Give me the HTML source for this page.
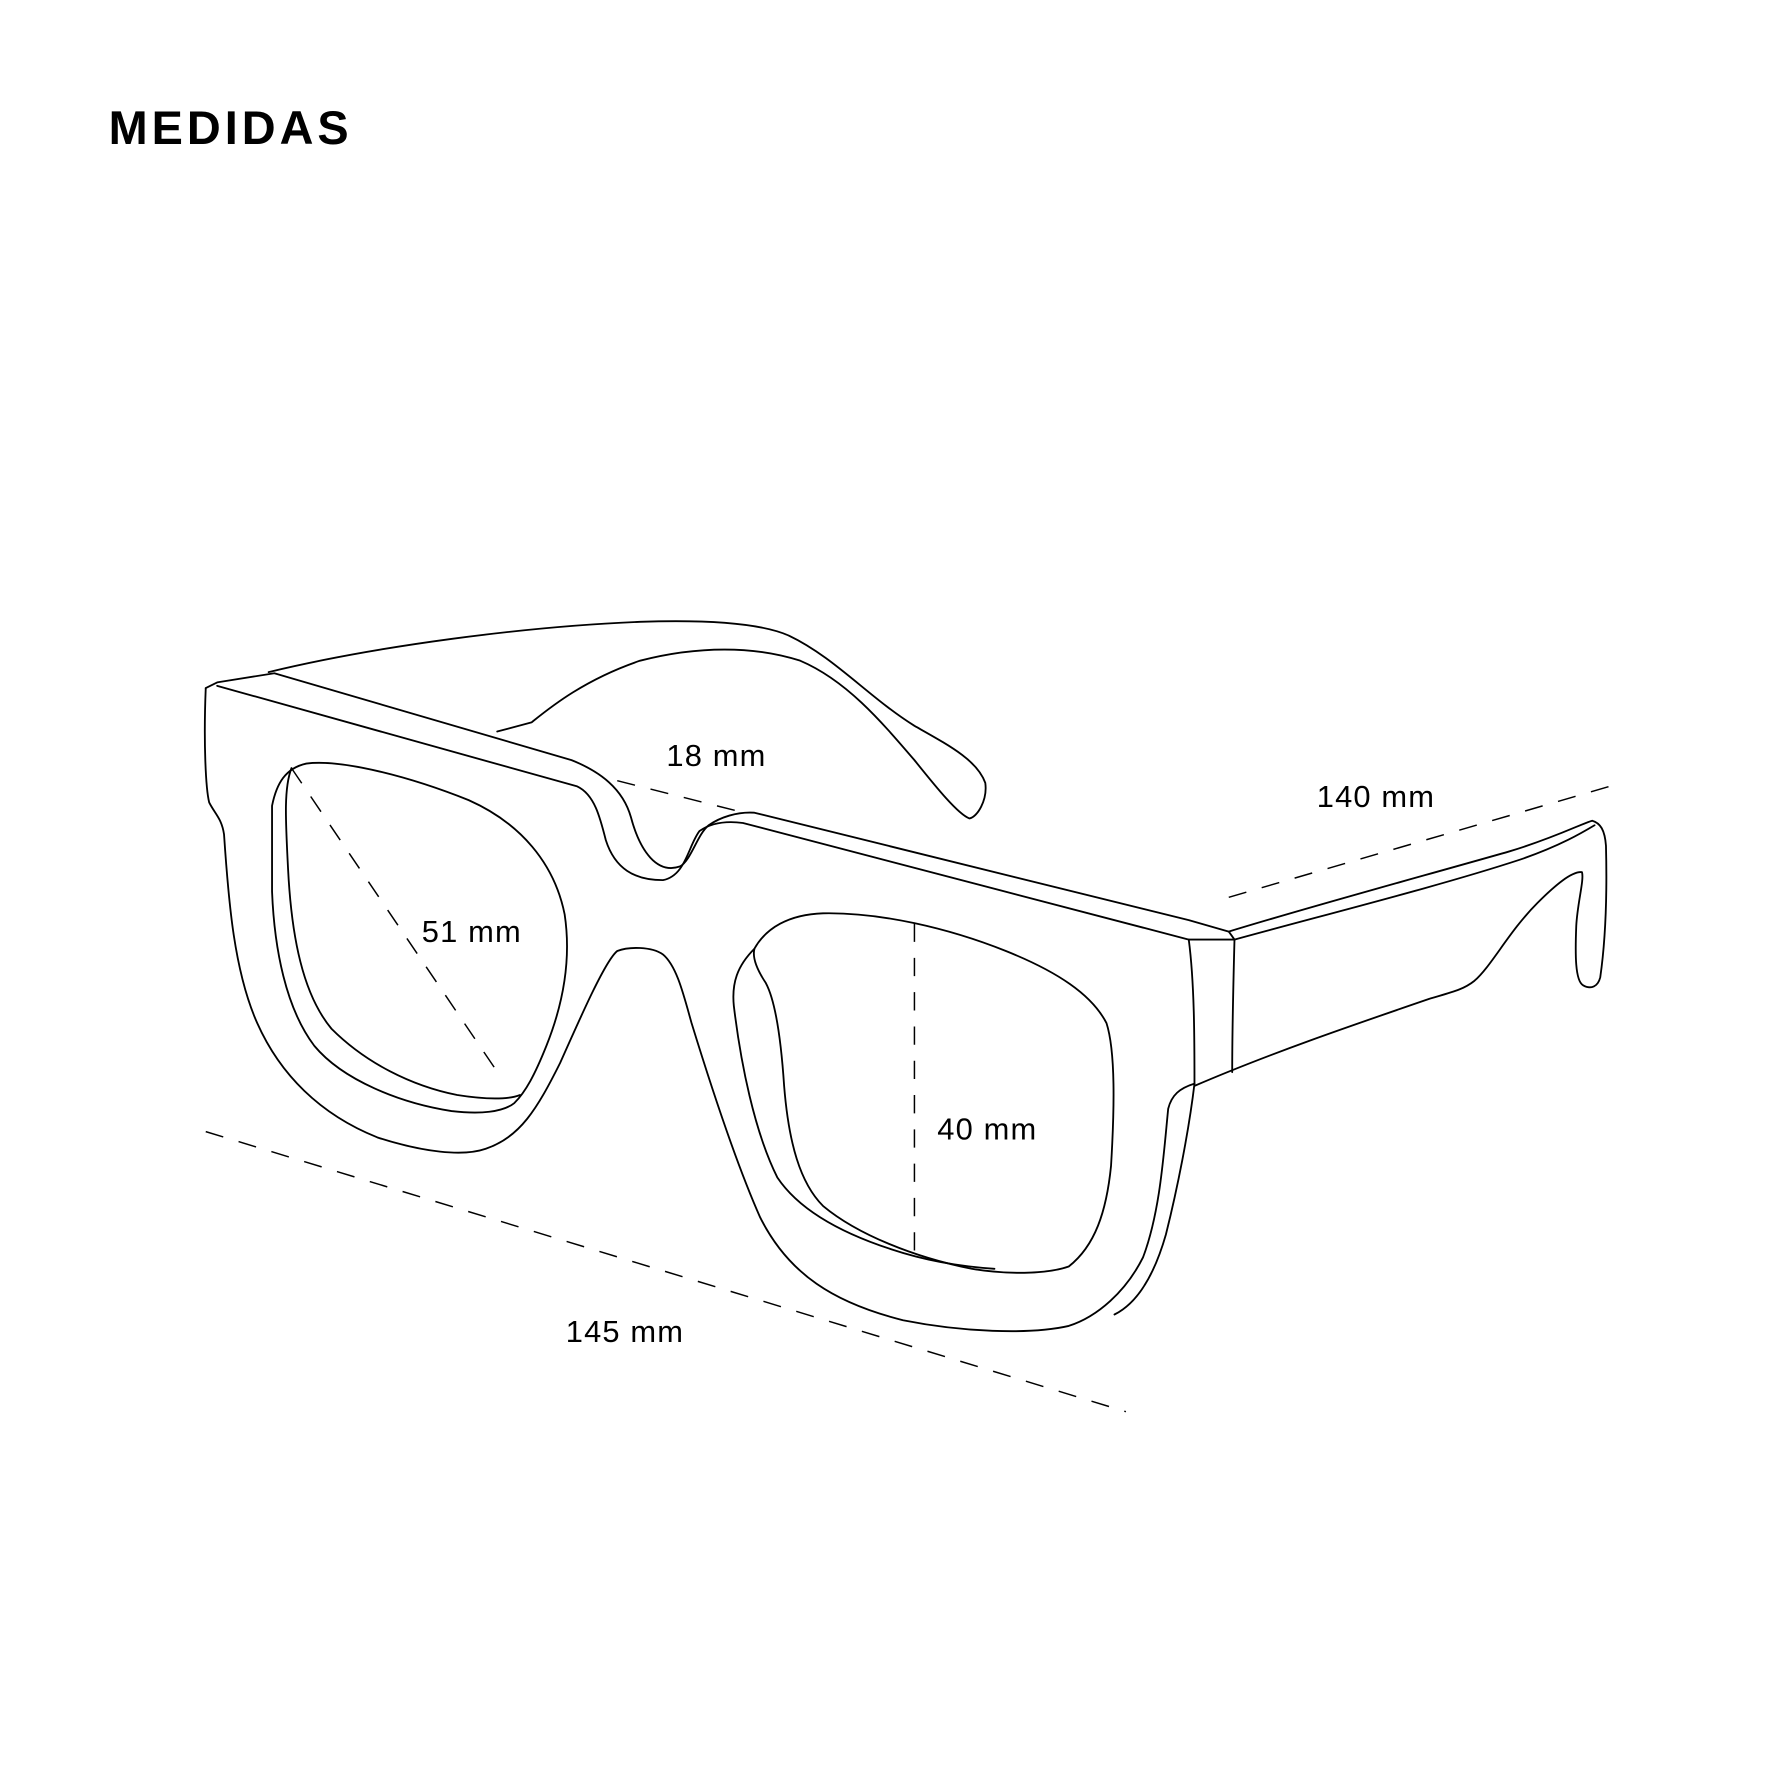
<!DOCTYPE html>
<html><head><meta charset="utf-8"><style>html,body{margin:0;padding:0;background:#fff}svg{display:block}</style></head>
<body>
<svg width="1774" height="1774" viewBox="0 0 1552 1552" xmlns="http://www.w3.org/2000/svg">
<g fill="none" stroke="#000" stroke-width="1.6" stroke-linejoin="round" stroke-linecap="round">
<path d="M235,588 C330,565 460,548 560,544 C620,542 665,545 690,556 C730,575 760,610 800,635 C830,652 855,665 862,685 C864,700 855,715 848,716 C838,712 820,690 800,665 C770,630 740,595 700,578 C660,565 610,565 560,578 C510,595 480,620 465,632 L435,640"/>
<path d="M180,602 L190,597 L240,589 L500,665 C525,675 545,690 552,715 C560,745 575,765 595,758 C605,752 610,730 620,722 C630,715 645,710 660,711 L1040,805 L1075,815 L1080,822"/>
<path d="M190,600 L505,688 C520,695 525,715 530,735 C538,760 555,770 580,770 C600,766 602,740 612,727 C622,720 635,718 650,720 L1040,822 L1080,822"/>
<path d="M180,602 C178,650 180,690 183,702 C188,712 194,716 196,730 C200,790 205,850 225,895 C245,940 280,975 330,995 C370,1008 405,1012 425,1005 C455,995 470,970 490,930 C510,885 530,840 540,832 C550,828 570,828 580,835 C592,845 598,870 605,895 C625,960 645,1020 665,1065 C690,1115 730,1140 790,1155 C840,1165 900,1168 935,1160 C960,1152 985,1130 1000,1100 C1015,1060 1018,1010 1022,970 C1025,958 1032,952 1045,948"/>
<path d="M1040,822 C1045,860 1045,910 1045,948 C1040,990 1030,1040 1020,1080 C1010,1115 995,1140 975,1150"/>
<path d="M1080,822 C1079,860 1078,900 1078,938"/>
<path d="M1075,815 C1150,792 1250,765 1320,745 C1360,733 1385,720 1393,718 C1400,720 1404,726 1405,740 C1406,780 1405,820 1400,855 C1398,863 1392,866 1385,862 C1378,858 1378,835 1379,810 C1380,790 1386,770 1384,763 C1375,762 1360,775 1345,790 C1320,815 1305,845 1290,858 C1280,866 1270,868 1250,874 C1180,898 1110,922 1045,950"/>
<path d="M1080,822 C1160,800 1260,775 1330,752 C1365,740 1385,728 1395,722"/>
<path d="M238,705 C242,685 250,672 268,668 C300,664 360,680 410,700 C455,720 485,755 494,800 C500,840 492,880 478,915 C468,940 460,955 450,965 C440,973 420,975 395,972 C350,965 300,945 275,915 C250,882 240,830 238,780 Z"/>
<path d="M255,672 C248,690 250,720 252,760 C255,820 265,870 290,900 C320,930 360,950 400,958 C425,962 445,962 455,958"/>
<path d="M660,830 C670,812 690,800 720,799 C770,798 830,812 880,832 C925,850 955,870 968,895 C976,920 975,970 972,1020 C968,1060 958,1090 935,1108 C915,1115 880,1115 850,1110 C800,1100 750,1080 720,1055 C700,1035 690,1000 686,950 C683,905 678,875 670,860 C662,848 658,838 660,830 Z"/>
<path d="M660,830 C645,845 640,860 642,880 C648,930 660,990 680,1030 C700,1060 740,1080 780,1093 C810,1103 840,1108 870,1110"/>
</g>
<g fill="none" stroke="#000" stroke-width="1.3" stroke-dasharray="16,14">
<path d="M180,990 L985,1235"/>
<path d="M1075,785 L1415,686"/>
<path d="M540,683 L655,712"/>
<path d="M255,672 L440,945"/>
<path d="M800,808 L800,1105"/>
</g>
<g font-family="Liberation Sans, sans-serif" font-size="27" fill="#000" letter-spacing="1">
<text x="583" y="670">18 mm</text>
<text x="1152" y="706">140 mm</text>
<text x="369" y="824">51 mm</text>
<text x="820" y="997">40 mm</text>
<text x="495" y="1174">145 mm</text>
</g>
<text x="95" y="126" font-family="Liberation Sans, sans-serif" font-size="41" font-weight="bold" letter-spacing="3.5">MEDIDAS</text>
</svg>
</body></html>
